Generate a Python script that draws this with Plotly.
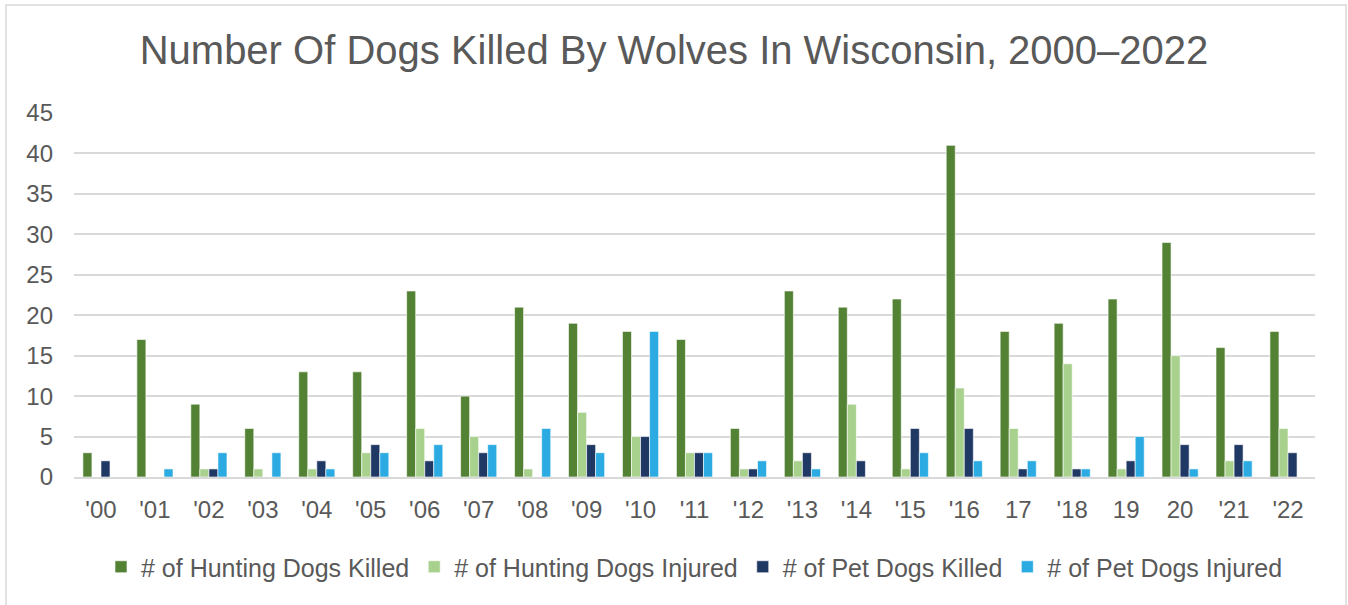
import plotly.graph_objects as go

years = ["'00", "'01", "'02", "'03", "'04", "'05", "'06", "'07", "'08", "'09", "'10", "'11",
         "'12", "'13", "'14", "'15", "'16", "17", "'18", "19", "20", "'21", "'22"]
hunting_killed = [3, 17, 9, 6, 13, 13, 23, 10, 21, 19, 18, 17, 6, 23, 21, 22, 41, 18, 19, 22, 29, 16, 18]
hunting_injured = [0, 0, 1, 1, 1, 3, 6, 5, 1, 8, 5, 3, 1, 2, 9, 1, 11, 6, 14, 1, 15, 2, 6]
pet_killed = [2, 0, 1, 0, 2, 4, 2, 3, 0, 4, 5, 3, 1, 3, 2, 6, 6, 1, 1, 2, 4, 4, 3]
pet_injured = [0, 1, 3, 3, 1, 3, 4, 4, 6, 3, 18, 3, 2, 1, 0, 3, 2, 2, 1, 5, 1, 2, 0]

series = [
    ("# of Hunting Dogs Killed", hunting_killed, "#548235"),
    ("# of Hunting Dogs Injured", hunting_injured, "#A9D18E"),
    ("# of Pet Dogs Killed", pet_killed, "#203864"),
    ("# of Pet Dogs Injured", pet_injured, "#2BABE2"),
]

fig = go.Figure()
for name, vals, col in series:
    fig.add_trace(go.Bar(
        x=years, y=vals, name=name,
        marker=dict(color=col, line=dict(color="rgba(255,255,255,0.6)", width=1)),
    ))

W, H = 1348, 605
L, R, T, B = 74, 33, 113, 128
pw, ph = W - L - R, H - T - B

def px(x):
    return (x - L) / pw

def py(y):
    return (H - B - y) / ph

fig.update_layout(
    width=W, height=H,
    margin=dict(l=L, r=R, t=T, b=B),
    paper_bgcolor="white", plot_bgcolor="white",
    barmode="group", bargap=0.33, bargroupgap=0,
    font=dict(family="Liberation Sans, Arial, sans-serif", color="#595959"),
    title=dict(text="Number Of Dogs Killed By Wolves In Wisconsin, 2000\u20132022",
               x=0.5, xref="container", xanchor="center", y=1 - 50 / H, yanchor="middle",
               font=dict(size=40, color="#595959")),
    xaxis=dict(type="category", showgrid=False, showline=True, linecolor="#D9D9D9", linewidth=1.5,
               ticks="", tickfont=dict(size=24, color="#595959"), ticklabelstandoff=10),
    yaxis=dict(range=[0, 45], dtick=5, showgrid=True, gridcolor="#D9D9D9", gridwidth=1.5,
               zeroline=False, showline=False, ticks="",
               tickfont=dict(size=24, color="#595959"), ticklabelstandoff=20),
    legend=dict(orientation="h", x=0.5, xanchor="center", y=py(567), yanchor="middle",
                font=dict(size=25, color="#595959"), itemwidth=30, tracegroupgap=0,
                traceorder="normal"),
    shapes=[dict(type="rect", xref="paper", yref="paper",
                 x0=px(6), x1=px(1346), y0=py(620), y1=py(5),
                 line=dict(color="#D9D9D9", width=1.5), layer="below")],
)

fig.write_html("out.html", config={"displayModeBar": False},
               post_script="document.body.style.margin='0';document.body.style.overflow='hidden';")
